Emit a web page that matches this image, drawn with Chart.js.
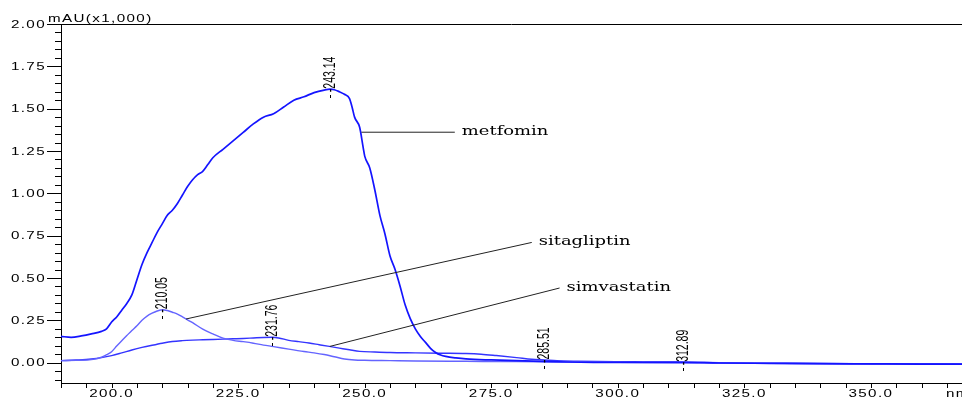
<!DOCTYPE html>
<html><head><meta charset="utf-8">
<script src="https://cdn.jsdelivr.net/npm/chart.js@4/dist/chart.umd.min.js"></script>
<style>html,body{margin:0;padding:0;background:#fff;overflow:hidden}#wrap{width:962px;height:399px}</style>
</head><body><div id="wrap"><canvas id="c" width="962" height="399"></canvas></div>
<script>
// ---------- data ----------
const xTickLabels = ['200.0','225.0','250.0','275.0','300.0','325.0','350.0'];
const yTickLabels = ['0.00','0.25','0.50','0.75','1.00','1.25','1.50','1.75','2.00'];
const yAxisTitle = 'mAU(x1,000)';
const xAxisUnit = 'nm';
const seriesNames = ['metfomin','sitagliptin','simvastatin'];

const metforminNm = [190,192,194,196,198,199,200,201,202,203,204,205,206,207,208,209,210,211,212,213,214,215,216,217,218,219,220,222,224,226,228,230,232,234,236,238,240,242,243.14,244,245,246,247,247.5,248,249,249.7,250,251,252,253,254,255,256,257,258,259,260,261,262,263,264,265,266,268,270,275,280,285,290,300,312.89,320,330,340,350,360,368];
const metforminAbs = [0.155,0.15,0.158,0.17,0.185,0.20,0.24,0.27,0.31,0.35,0.40,0.49,0.58,0.65,0.71,0.77,0.82,0.87,0.90,0.94,0.99,1.04,1.08,1.11,1.13,1.17,1.21,1.26,1.31,1.36,1.41,1.45,1.47,1.51,1.55,1.57,1.595,1.61,1.615,1.612,1.60,1.585,1.56,1.51,1.45,1.39,1.27,1.22,1.15,1.02,0.87,0.76,0.63,0.55,0.45,0.34,0.26,0.20,0.155,0.12,0.085,0.06,0.045,0.037,0.028,0.022,0.016,0.012,0.008,0.004,0.001,0.002,-0.002,-0.004,-0.006,-0.007,-0.008,-0.008];

const sitagliptinNm = [190,193,196,198,199,200,201,202,203,204,205,206,207,208,209,210.05,211,212,213,214,215,216,218,220,222,224,226,228,230,232,235,238,240,242,244,246,248,250,255,260,270,280,290,300,312,320,330,345,368];
const sitagliptinAbs = [0.012,0.014,0.018,0.032,0.047,0.065,0.098,0.13,0.16,0.19,0.218,0.25,0.275,0.292,0.305,0.313,0.308,0.298,0.287,0.27,0.253,0.236,0.198,0.17,0.145,0.132,0.124,0.115,0.104,0.095,0.08,0.066,0.058,0.048,0.035,0.022,0.016,0.014,0.012,0.01,0.008,0.006,0.004,0.002,0.0,-0.002,-0.004,-0.007,-0.009];

const simvastatinNm = [190,193,196,198,200,202,204,206,208,210,212,214,216,218,220,222,224,226,228,230,231.76,233,235,237,239,241,243,245,247,249,252,255,260,265,270,273,276,280,283,285.51,288,292,296,300,305,310,315,320,330,340,350,368];
const simvastatinAbs = [0.012,0.016,0.022,0.03,0.042,0.058,0.075,0.09,0.103,0.115,0.125,0.13,0.133,0.135,0.137,0.139,0.141,0.143,0.146,0.149,0.15,0.146,0.132,0.124,0.116,0.106,0.096,0.086,0.076,0.067,0.063,0.06,0.058,0.056,0.054,0.05,0.042,0.03,0.02,0.016,0.012,0.009,0.007,0.006,0.005,0.004,0.003,0.0,-0.003,-0.005,-0.006,-0.007];

// peak labels: wavelength and the series they sit on
const peakNm = [243.14, 210.05, 231.76, 285.51, 312.89];
const peakSeries = [0, 1, 2, 2, 0];

// leader lines of the name labels, in data units [nm, value]
const leaderStart = [[249.35,1.361],[214.7,0.258],[243.1,0.096]];
const leaderEnd = [[267.8,1.361],[283.0,0.710],[288.5,0.441]];

// ---------- chart ----------
const seriesNm = [metforminNm, sitagliptinNm, simvastatinNm];
const seriesAbs = [metforminAbs, sitagliptinAbs, simvastatinAbs];
const colors = ['#1414ff','#6464ff','#3434ff'];
const widths = [1.7,1.4,1.4];

const datasets = seriesNames.map((n,i)=>({
  label: n,
  data: seriesNm[i].map((x,k)=>({x:x, y:seriesAbs[i][k]})),
  borderColor: colors[i], borderWidth: widths[i],
  pointRadius: 0, fill: false, cubicInterpolationMode: 'monotone'
}));

const HS = 1.38; // horizontal stretch of the reference's text

function sText(ctx, txt, x, y, font, align, baseline, sx, spacing){
  ctx.save();
  ctx.font = font;
  try { ctx.letterSpacing = spacing || '0px'; } catch(e){}
  ctx.textBaseline = baseline;
  ctx.textAlign = 'left';
  const w = ctx.measureText(txt).width * sx;
  let x0 = x;
  if (align === 'right') x0 = x - w; else if (align === 'center') x0 = x - w/2;
  ctx.translate(x0, y);
  ctx.scale(sx, 1);
  ctx.fillStyle = '#000';
  ctx.fillText(txt, 0, 0);
  ctx.restore();
}

const decor = {
  id: 'decor',
  afterDraw(chart){
    const ctx = chart.ctx, a = chart.chartArea;
    const xs = chart.scales.x, ys = chart.scales.y;
    ctx.save();
    ctx.strokeStyle = '#000'; ctx.lineWidth = 1;
    // top frame line
    ctx.beginPath(); ctx.moveTo(a.left, a.top + 0.5); ctx.lineTo(a.right, a.top + 0.5); ctx.stroke();
    // y ticks
    for (let k = -2; k <= 40; k++){
      const py = Math.round(ys.getPixelForValue(k*0.05)) + 0.5;
      const len = (k % 5 === 0) ? 14 : 6;
      ctx.beginPath(); ctx.moveTo(a.left - len, py); ctx.lineTo(a.left, py); ctx.stroke();
    }
    // x ticks
    for (let nm = 190; nm <= 368; nm += 5){
      const px = Math.round(xs.getPixelForValue(nm)) + 0.5;
      ctx.beginPath(); ctx.moveTo(px, a.bottom); ctx.lineTo(px, a.bottom + 5); ctx.stroke();
    }
    ctx.restore();
    const sansFont = '11px "Liberation Sans", Arial, sans-serif';
    yTickLabels.forEach(l=>{
      const py = ys.getPixelForValue(parseFloat(l));
      sText(ctx, l, a.left - 15, py + 0.5, sansFont, 'right', 'middle', HS, '1px');
    });
    xTickLabels.forEach(l=>{
      const px = xs.getPixelForValue(parseFloat(l));
      sText(ctx, l, px, a.bottom + 10.5, sansFont, 'center', 'middle', HS, '1px');
    });
    sText(ctx, yAxisTitle, a.left - 13, a.top - 2, sansFont, 'left', 'alphabetic', HS, '1px');
    sText(ctx, xAxisUnit, a.right - 16, a.bottom + 10.5, sansFont, 'left', 'middle', HS, '1px');

    // peak labels
    peakNm.forEach((nm,i)=>{
      const si = peakSeries[i];
      const k = seriesNm[si].indexOf(nm);
      const px = Math.round(xs.getPixelForValue(nm));
      const py = ys.getPixelForValue(seriesAbs[si][k]);
      ctx.save();
      ctx.fillStyle = '#000';
      ctx.fillRect(px, Math.round(py) + 6, 1, 3);
      ctx.translate(px + 0.5, py + 3);
      ctx.rotate(-Math.PI/2);
      ctx.scale(1, 1.6);
      ctx.font = '10.5px "Liberation Sans", Arial, sans-serif';
      ctx.textBaseline = 'middle'; ctx.textAlign = 'left';
      ctx.fillText('-' + nm.toFixed(2), 0, 0);
      ctx.restore();
    });

    // name leaders and names
    ctx.save();
    ctx.strokeStyle = '#222'; ctx.lineWidth = 1;
    leaderStart.forEach((s,i)=>{
      const e = leaderEnd[i];
      ctx.beginPath();
      ctx.moveTo(xs.getPixelForValue(s[0]), ys.getPixelForValue(s[1]));
      ctx.lineTo(xs.getPixelForValue(e[0]), ys.getPixelForValue(e[1]));
      ctx.stroke();
    });
    ctx.restore();
    const serif = '13px "DejaVu Serif", serif';
    seriesNames.forEach((n,i)=>{
      const e = leaderEnd[i];
      const px = xs.getPixelForValue(e[0]) + 7;
      const py = ys.getPixelForValue(e[1]);
      sText(ctx, n, px, py + 3, serif, 'left', 'alphabetic', HS, '0px');
    });
  }
};

new Chart(document.getElementById('c'), {
  type: 'line',
  data: { datasets },
  options: {
    responsive: false, animation: false, devicePixelRatio: 1,
    layout: { padding: { top: 24, left: 0, right: 0, bottom: 0 } },
    plugins: { legend: { display: false }, tooltip: { enabled: false } },
    scales: {
      x: { type: 'linear', min: 190, max: 368,
           ticks: { display: false }, grid: { display: false, drawTicks: false },
           border: { display: true, color: '#000', width: 1 },
           afterFit(s){ s.height = 16; } },
      y: { type: 'linear', min: -0.12, max: 2.0,
           ticks: { display: false }, grid: { display: false, drawTicks: false },
           border: { display: true, color: '#000', width: 1 },
           afterFit(s){ s.width = 61; } }
    }
  },
  plugins: [decor]
});
</script></body></html>
